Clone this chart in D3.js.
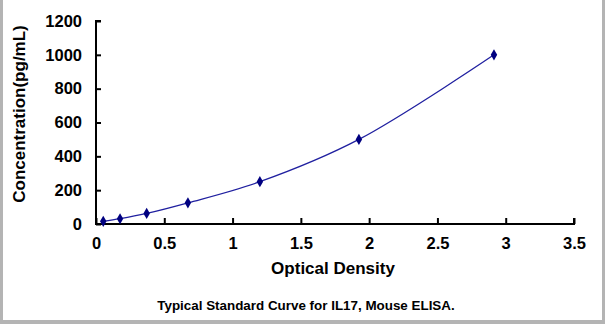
<!DOCTYPE html>
<html><head><meta charset="utf-8">
<script src="https://cdn.jsdelivr.net/npm/d3@7"></script>
<style>
html,body{margin:0;padding:0;background:#fff;}
svg{display:block;}
text{font-family:Arial,"Liberation Sans",sans-serif;font-weight:bold;fill:#000;}
</style></head>
<body>
<script>
const od = [0.053, 0.176, 0.371, 0.673, 1.20, 1.925, 2.914];
const conc = [15.6, 31.2, 62.5, 125, 250, 500, 1000];
const xTicks = [0, 0.5, 1, 1.5, 2, 2.5, 3, 3.5];
const yTicks = [0, 200, 400, 600, 800, 1000, 1200];
const xTitle = "Optical Density";
const yTitle = "Concentration(pg/mL)";
const caption = "Typical Standard Curve for IL17, Mouse ELISA.";

const W = 605, H = 324;
const svg = d3.select("body").append("svg").attr("width", W).attr("height", H);
// gray frame
svg.append("rect").attr("x",0).attr("y",0).attr("width",W).attr("height",H).attr("fill","#b4b4b4");
svg.append("rect").attr("x",3).attr("y",0).attr("width",W-6).attr("height",H-4).attr("fill","#fff");

const x = d3.scaleLinear().domain([0, 3.5]).range([96, 574]);
const y = d3.scaleLinear().domain([0, 1200]).range([224, 21]);

const xAxis = svg.append("g").attr("transform", "translate(0,224)")
  .call(d3.axisBottom(x).tickValues(xTicks).tickSize(-6).tickPadding(13).tickFormat(d3.format("")));
const yAxis = svg.append("g").attr("transform", "translate(96,0)")
  .call(d3.axisLeft(y).tickValues(yTicks).tickSize(-5).tickPadding(14).tickFormat(d3.format("")));
[xAxis, yAxis].forEach(g => {
  g.select(".domain").attr("stroke", "#000").attr("stroke-width", 2);
  g.selectAll(".tick line").attr("stroke", "#000").attr("stroke-width", 2);
  g.selectAll("text").style("font-size", "16.5px").style("font-weight", "bold").attr("fill", "#000");
});
xAxis.select(".domain").attr("d", "M" + x(0) + ",-6V0H" + x(3.5) + "V-6");
yAxis.select(".domain").attr("d", "M5," + y(1200) + "H0V" + y(0) + "H5");

const pts = od.map((v, i) => [v, conc[i]]);
svg.append("path").datum(pts)
  .attr("fill", "none").attr("stroke", "#2020a0").attr("stroke-width", 1.3)
  .attr("d", d3.line().x(d => x(d[0])).y(d => y(d[1])).curve(d3.curveCatmullRom.alpha(0.5)));

svg.selectAll(".pt").data(pts).enter().append("path")
  .attr("transform", d => `translate(${x(d[0])},${y(d[1])})`)
  .attr("d", d3.symbol().type(d3.symbolDiamond).size(36))
  .attr("fill", "#000080");

svg.append("text").attr("x", 333).attr("y", 274).attr("text-anchor", "middle")
  .style("font-size", "17px").text(xTitle);
svg.append("text").attr("transform", "translate(25,114) rotate(-90)").attr("text-anchor", "middle")
  .style("font-size", "17px").text(yTitle);
svg.append("text").attr("x", 306).attr("y", 310).attr("text-anchor", "middle")
  .style("font-size", "13.4px").text(caption);
</script>
</body></html>
